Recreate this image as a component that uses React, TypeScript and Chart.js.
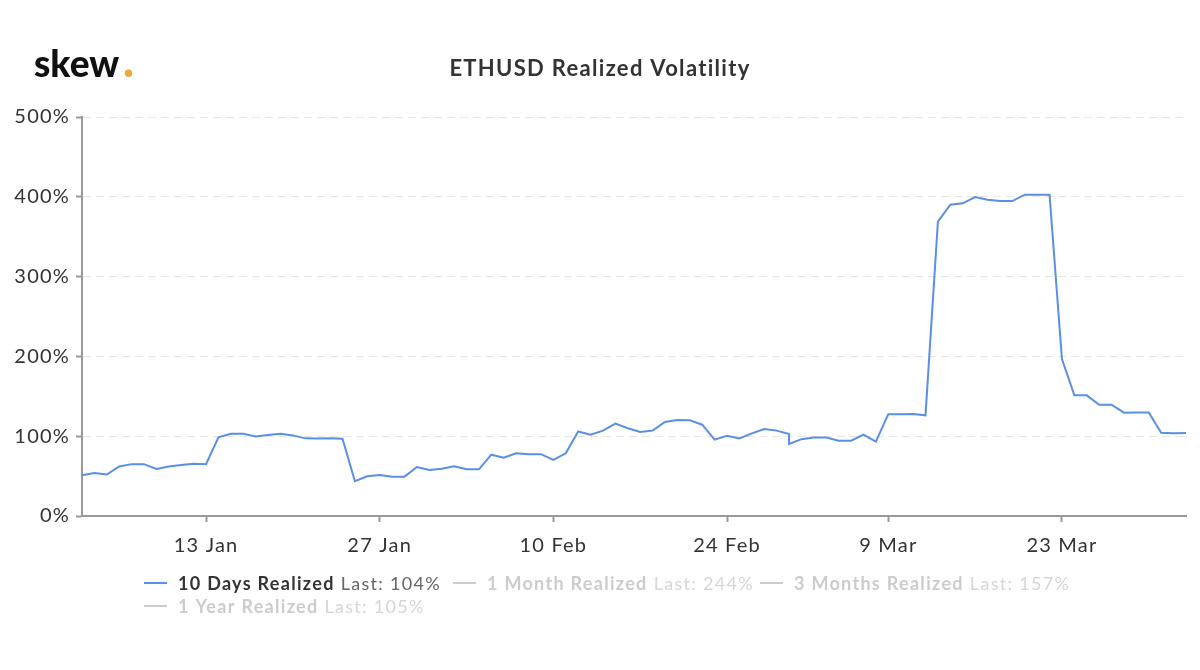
import React, { useEffect, useRef } from "react";
import { Chart, registerables } from "chart.js";

Chart.register(...registerables);

// ---- Data ----
const dates = [
  "01-03", "01-04", "01-05", "01-06", "01-07", "01-08", "01-09", "01-10", "01-11", "01-12",
  "01-13", "01-14", "01-15", "01-16", "01-17", "01-18", "01-19", "01-20", "01-21", "01-22",
  "01-23", "01-24", "01-25", "01-26", "01-27", "01-28", "01-29", "01-30", "01-31",
  "02-01", "02-02", "02-03", "02-04", "02-05", "02-06", "02-07", "02-08", "02-09", "02-10",
  "02-11", "02-12", "02-13", "02-14", "02-15", "02-16", "02-17", "02-18", "02-19", "02-20",
  "02-21", "02-22", "02-23", "02-24", "02-25", "02-26", "02-27", "02-28", "02-29",
  "03-01", "03-02", "03-03", "03-04", "03-05", "03-06", "03-07", "03-08", "03-09", "03-10",
  "03-11", "03-12", "03-13", "03-14", "03-15", "03-16", "03-17", "03-18", "03-19", "03-20",
  "03-21", "03-22", "03-23", "03-24", "03-25", "03-26", "03-27", "03-28", "03-29", "03-30",
  "03-31", "04-01", "04-02",
];

const vol10d = [
  51, 54, 52, 62, 65, 65, 59, 62, 64, 65.5,
  65, 98.6, 103, 103, 99.5, 101.5, 103, 101, 97.3, 97,
  97.3, 96.7, 43.5, 49.7, 51.4, 49.3, 49.3, 61.4, 57.6,
  59.3, 62.3, 58.5, 58.5, 76.8, 73, 78.5, 77.3, 77.5, 70.2,
  78.5, 106, 102, 107, 115.7, 110, 105.3, 107, 117.8, 120.3,
  120, 114.4, 95.6, 100.6, 97.3, 103.6, 109, 107, 102.8,
  90.2, 96.3, 98.3, 98.3, 94.4, 94.4, 102, 93.2, 127.6, 127.6,
  127.8, 126.2, 368.8, 390, 391.8, 399.7, 396.4, 394.7, 394.7, 402.7,
  402.7, 402.7, 196.7, 151.2, 151.2, 139.5, 139.5, 129.5, 129.7, 129.7,
  104.4, 103.6, 104,
];

const tickDates = ["01-13", "01-27", "02-10", "02-24", "03-09", "03-23"];
const tickLabels = ["13 Jan", "27 Jan", "10 Feb", "24 Feb", "9 Mar", "23 Mar"];

const yMin = 0;
const yMax = 500;
const yStep = 100;

const legendNames = ["10 Days Realized", "1 Month Realized", "3 Months Realized", "1 Year Realized"];
const legendLast = ["104%", "244%", "157%", "105%"];
const legendVisible = [true, false, false, false];

const TITLE = "ETHUSD Realized Volatility";
const LINE_COLOR = "#5b8fe3";

// day position on the axis (non-leap calendar, as in the source chart)
const MONTH_START = [0, 31, 59, 90, 120, 151, 181, 212, 243, 273, 304, 334];
function dayNumber(md: string): number {
  const [m, d] = md.split("-").map(Number);
  return MONTH_START[m - 1] + d;
}

const points = dates.map((d, i) => ({ x: dayNumber(d), y: vol10d[i] }));
const tickValues = tickDates.map(dayNumber);

const legendPos: [number, number][] = [
  [144, 590],
  [453, 590],
  [760, 590],
  [144, 613],
];

const spacingPlugin = {
  id: "spacing",
  beforeDraw(chart: any) {
    (chart.ctx as any).letterSpacing = "1.2px";
  },
};

const decorPlugin = {
  id: "decor",
  afterDraw(chart: any) {
    const ctx = chart.ctx as any;
    ctx.save();
    ctx.textAlign = "left";
    ctx.textBaseline = "alphabetic";

    // logo
    ctx.letterSpacing = "0px";
    ctx.font = "900 37px Lato";
    ctx.fillStyle = "#111111";
    ctx.fillText("skew", 34, 77);
    ctx.fillStyle = "#eea83a";
    ctx.beginPath();
    ctx.arc(128.5, 73.2, 3.7, 0, Math.PI * 2);
    ctx.fill();

    // title
    ctx.letterSpacing = "1.3px";
    ctx.font = "bold 22px Lato";
    ctx.fillStyle = "#333333";
    ctx.textAlign = "center";
    ctx.fillText(TITLE, 600, 76);
    ctx.textAlign = "left";

    // legend
    ctx.letterSpacing = "1.3px";
    legendNames.forEach((name, i) => {
      const [x, y] = legendPos[i];
      const vis = legendVisible[i];
      ctx.strokeStyle = vis ? LINE_COLOR : "#cccccc";
      ctx.lineWidth = 2;
      ctx.beginPath();
      ctx.moveTo(x, y - 7);
      ctx.lineTo(x + 23, y - 7);
      ctx.stroke();
      ctx.font = "bold 18px Lato";
      ctx.fillStyle = vis ? "#333333" : "#cccccc";
      ctx.fillText(name, x + 34, y);
      const nw = ctx.measureText(name).width + 6;
      ctx.font = "18px Lato";
      ctx.fillStyle = vis ? "#666666" : "#d6d6d6";
      ctx.fillText("Last: " + legendLast[i], x + 34 + nw, y);
    });
    ctx.restore();
  },
};

export default function App() {
  const canvasRef = useRef<HTMLCanvasElement | null>(null);

  useEffect(() => {
    if (!canvasRef.current) return;
    const chart = new Chart(canvasRef.current, {
      type: "line",
      data: {
        datasets: [
          {
            label: legendNames[0],
            data: points,
            borderColor: LINE_COLOR,
            backgroundColor: LINE_COLOR,
            borderWidth: 2,
            pointRadius: 0,
            tension: 0,
            fill: false,
          },
        ],
      },
      options: {
        animation: false,
        responsive: false,
        devicePixelRatio: 1,
        layout: { padding: { left: 0, right: 14, top: 117, bottom: 114 } },
        plugins: {
          legend: { display: false },
          title: { display: false },
          tooltip: { enabled: false },
        },
        scales: {
          x: {
            type: "linear",
            min: points[0].x,
            max: points[points.length - 1].x,
            afterBuildTicks: (scale: any) => {
              scale.ticks = tickValues.map((v) => ({ value: v }));
            },
            afterFit: (scale: any) => {
              scale.height = 40;
            },
            ticks: {
              autoSkip: false,
              maxRotation: 0,
              padding: 12,
              color: "#333333",
              font: { family: "Lato", size: 20 },
              callback: (v: any) => {
                const idx = tickValues.indexOf(Number(v));
                return idx >= 0 ? tickLabels[idx] : null;
              },
            },
            grid: {
              display: true,
              drawOnChartArea: false,
              drawTicks: true,
              tickLength: 6,
              tickColor: "#999999",
              tickWidth: 2,
            },
            border: { display: true, color: "#999999", width: 2 },
          },
          y: {
            min: yMin,
            max: yMax,
            afterFit: (scale: any) => {
              scale.width = 82;
            },
            ticks: {
              stepSize: yStep,
              padding: 6,
              color: "#333333",
              font: { family: "Lato", size: 20 },
              callback: (v: any) => `${v}%`,
            },
            grid: {
              color: "#e6e6e6",
              lineWidth: 1,
              drawTicks: true,
              tickLength: 6,
              tickColor: "#999999",
              tickWidth: 2,
              tickBorderDash: [],
            },
            border: { display: true, color: "#999999", width: 2, dash: [8, 5] },
          },
        },
      },
      plugins: [spacingPlugin, decorPlugin],
    } as any);
    return () => chart.destroy();
  }, []);

  return (
    <div style={{ position: "fixed", left: 0, top: 0, width: 1200, height: 670, background: "#ffffff" }}>
      <canvas ref={canvasRef} width={1200} height={670} style={{ display: "block" }} />
    </div>
  );
}
